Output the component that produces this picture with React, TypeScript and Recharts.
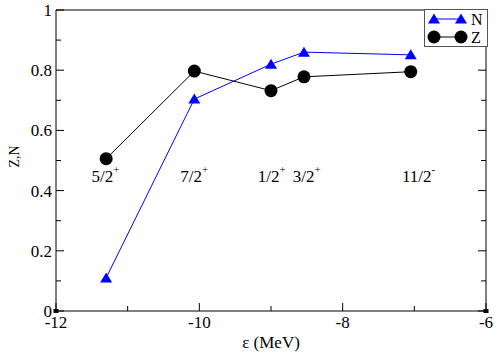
import { ScatterChart, Scatter, XAxis, YAxis, Legend } from "recharts";

const FONT = "Liberation Serif, Times New Roman, Times, serif";
const BLUE = "#0000ff";
const BLACK = "#000000";

// single-particle energies (MeV) of the levels
const ENERGY = [-11.3, -10.07, -9.0, -8.54, -7.05];
const N_VALUES = [0.11, 0.704, 0.82, 0.86, 0.851];
const Z_VALUES = [0.506, 0.797, 0.732, 0.778, 0.795];

// level labels
const LEVEL_NAMES = ["5/2", "7/2", "1/2", "3/2", "11/2"];
const LEVEL_PARITY = ["+", "+", "+", "+", "-"];
const LEVEL_LABEL_X = [-11.31, -10.07, -8.99, -8.5, -6.94];
const LEVEL_LABEL_Y = 0.429;

const X_TICKS = [-12, -11, -10, -9, -8, -7, -6];
const Y_TICKS = [0, 0.1, 0.2, 0.3, 0.4, 0.5, 0.6, 0.7, 0.8, 0.9, 1];

const nData = ENERGY.map((x, i) => ({ x, y: N_VALUES[i] }));
const zData = ENERGY.map((x, i) => ({ x, y: Z_VALUES[i] }));
const labelData = LEVEL_LABEL_X.map((x, i) => ({ x, y: LEVEL_LABEL_Y, name: LEVEL_NAMES[i], parity: LEVEL_PARITY[i] }));

const txt = { fontFamily: FONT, fill: BLACK } as const;

const isMajorX = (v: number) => Math.abs(v % 2) < 1e-6;
const isMajorY = (v: number) => Math.round(v * 10) % 2 === 0;
const fmtY = (v: number) => String(Math.round(v * 10) / 10);
const isEdgeX = (v: number) => v === -12 || v === -6;

const Corner = ({ x, y }: { x: number; y: number }) => <rect x={x - 2.5} y={y - 2} width={5} height={4} fill={BLACK} />;

const BottomTick = (p: any) => {
  const v = p.payload.value;
  const major = isMajorX(v);
  return (
    <g>
      <line x1={p.x} x2={p.x} y1={p.y} y2={p.y - (major ? 8 : 5)} stroke={BLACK} />
      {major && (
        <text x={p.x} y={p.y + 17} textAnchor="middle" style={{ ...txt, fontSize: 17 }}>
          {v}
        </text>
      )}
      {isEdgeX(v) && <Corner x={p.x} y={p.y} />}
    </g>
  );
};

const TopTick = (p: any) => {
  const v = p.payload.value;
  const major = isMajorX(v);
  return (
    <g>
      <line x1={p.x} x2={p.x} y1={p.y} y2={p.y + (major ? 8 : 5)} stroke={BLACK} />
      {isEdgeX(v) && <Corner x={p.x} y={p.y} />}
    </g>
  );
};

const LeftTick = (p: any) => {
  const v = p.payload.value;
  const major = isMajorY(v);
  return (
    <g>
      <line x1={p.x} x2={p.x + (major ? 8 : 5)} y1={p.y} y2={p.y} stroke={BLACK} />
      {major && (
        <text x={p.x - 4} y={p.y + 6} textAnchor="end" style={{ ...txt, fontSize: 17 }}>
          {fmtY(v)}
        </text>
      )}
    </g>
  );
};

const RightTick = (p: any) => {
  const v = p.payload.value;
  const major = isMajorY(v);
  return <line x1={p.x} x2={p.x - (major ? 8 : 5)} y1={p.y} y2={p.y} stroke={BLACK} />;
};

const Triangle = ({ cx, cy, fill }: any) => (
  <polygon points={`${cx},${cy - 5.5} ${cx - 6},${cy + 4.5} ${cx + 6},${cy + 4.5}`} fill={fill} />
);
const Dot = ({ cx, cy, fill }: any) => <circle cx={cx} cy={cy} r={6.5} fill={fill} />;

const LevelLabel = ({ cx, cy, payload }: any) => (
  <text x={cx} y={cy} textAnchor="middle" style={{ ...txt, fontSize: 17 }}>
    {payload.name}
    <tspan style={{ fontSize: 11 }} dy={-9}>
      {payload.parity}
    </tspan>
  </text>
);

const LegendBox = () => (
  <svg width={64} height={38} style={{ display: "block" }}>
    <rect x={0.5} y={0.5} width={63} height={37} fill="#fff" stroke="#555" />
    <line x1={10} x2={37} y1={10} y2={10} stroke={BLUE} />
    <Triangle cx={10} cy={10} fill={BLUE} />
    <Triangle cx={37} cy={10} fill={BLUE} />
    <text x={47} y={15.5} style={{ ...txt, fontSize: 16 }}>N</text>
    <line x1={10} x2={37} y1={28} y2={28} stroke={BLACK} />
    <Dot cx={10} cy={28} fill={BLACK} />
    <Dot cx={37} cy={28} fill={BLACK} />
    <text x={47} y={33.5} style={{ ...txt, fontSize: 16 }}>Z</text>
  </svg>
);

export default function App() {
  return (
    <div style={{ position: "absolute", left: 0, top: 0, width: 498, height: 353, background: "#fff" }}>
      <ScatterChart width={498} height={353} margin={{ top: 9, right: 11, bottom: 0, left: 0 }}>
        <XAxis
          type="number" dataKey="x" domain={[-12, -6]} ticks={X_TICKS} interval={0}
          height={42} tickSize={0} tickMargin={0} tickLine={false} axisLine={{ stroke: BLACK }}
          tick={<BottomTick />} allowDataOverflow
          label={({ viewBox }: any) => (
            <text x={viewBox.x + viewBox.width / 2} y={viewBox.y + 37} textAnchor="middle" style={{ ...txt, fontSize: 17 }}>
              ε (MeV)
            </text>
          )}
        />
        <XAxis
          xAxisId="top" orientation="top" type="number" domain={[-12, -6]} ticks={X_TICKS} interval={0}
          height={1} tickSize={0} tickMargin={0} tickLine={false} axisLine={{ stroke: BLACK }}
          tick={<TopTick />} allowDataOverflow
        />
        <YAxis
          type="number" dataKey="y" domain={[0, 1]} ticks={Y_TICKS} interval={0}
          width={56} tickSize={0} tickMargin={0} tickLine={false} axisLine={{ stroke: BLACK }}
          tick={<LeftTick />} allowDataOverflow
          label={({ viewBox }: any) => (
            <text
              x={14} y={viewBox.y + viewBox.height / 2 - 4} textAnchor="middle" dominantBaseline="central"
              transform={`rotate(-90 14 ${viewBox.y + viewBox.height / 2 - 4})`} style={{ ...txt, fontSize: 14 }}
            >
              Z,N
            </text>
          )}
        />
        <YAxis
          yAxisId="right" orientation="right" type="number" domain={[0, 1]} ticks={Y_TICKS} interval={0}
          width={1} tickSize={0} tickMargin={0} tickLine={false} axisLine={{ stroke: BLACK }}
          tick={<RightTick />} allowDataOverflow
        />
        <Legend
          layout="horizontal" verticalAlign="middle" align="center"
          wrapperStyle={{ top: 9, right: 10, left: "auto", width: "auto" }}
          content={() => <LegendBox />}
        />
        <Scatter data={labelData} shape={<LevelLabel />} isAnimationActive={false} legendType="none" />
        <Scatter data={nData} name="N" fill={BLUE} line={{ stroke: BLUE, strokeWidth: 1 }} shape={<Triangle />} isAnimationActive={false} />
        <Scatter data={zData} name="Z" fill={BLACK} line={{ stroke: BLACK, strokeWidth: 1 }} shape={<Dot />} isAnimationActive={false} />
      </ScatterChart>
    </div>
  );
}
